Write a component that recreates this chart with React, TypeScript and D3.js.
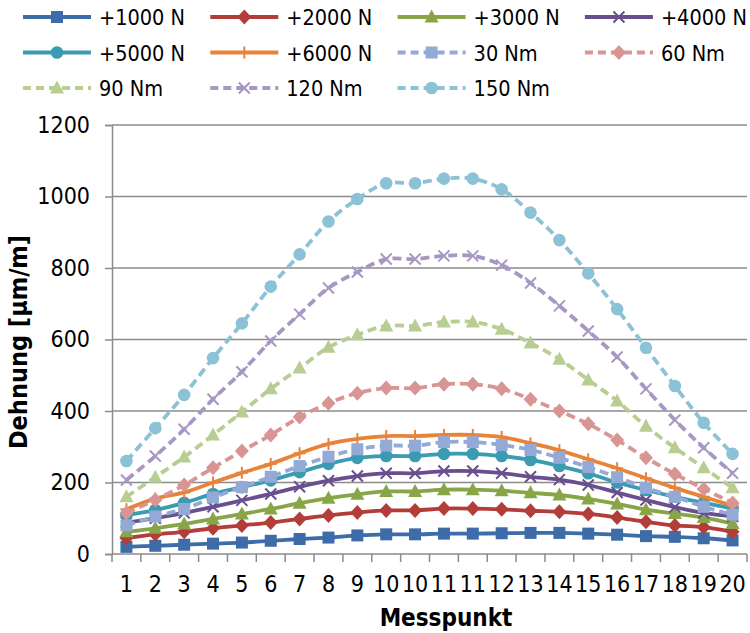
import * as d3 from "d3";
import { useEffect, useRef } from "react";

// measuring points (10 and 11 were measured twice)
const categories = ["1", "2", "3", "4", "5", "6", "7", "8", "9", "10", "10", "11", "11", "12", "13", "14", "15", "16", "17", "18", "19", "20"];

const n1000 = [20, 23, 26, 29, 32, 37, 42, 46, 52, 55, 55, 57, 57, 58, 59, 59, 57, 54, 50, 48, 44, 38];
const n2000 = [45, 55, 62, 72, 80, 88, 98, 108, 116, 122, 122, 127, 127, 125, 121, 118, 112, 102, 90, 80, 75, 62];
const n3000 = [62, 72, 84, 98, 112, 126, 142, 156, 167, 175, 175, 180, 180, 177, 171, 165, 154, 140, 124, 113, 102, 85];
const n4000 = [88, 100, 115, 132, 150, 168, 188, 205, 218, 226, 226, 232, 232, 226, 216, 208, 193, 172, 151, 131, 115, 105];
const n5000 = [109, 123, 143, 168, 187, 206, 229, 252, 269, 274, 274, 280, 280, 274, 263, 246, 226, 200, 179, 160, 143, 128];
const n6000 = [125, 155, 172, 200, 227, 252, 282, 308, 322, 330, 330, 333, 333, 327, 310, 290, 265, 240, 212, 185, 160, 135];
const nm30 = [80, 105, 126, 158, 187, 216, 246, 272, 293, 303, 303, 313, 313, 305, 291, 269, 243, 215, 185, 160, 132, 110];
const nm60 = [115, 151, 193, 241, 288, 333, 383, 422, 450, 464, 464, 475, 475, 462, 433, 400, 364, 319, 269, 224, 182, 143];
const nm90 = [160, 215, 271, 333, 397, 462, 520, 578, 613, 638, 638, 649, 649, 629, 590, 545, 487, 428, 357, 297, 241, 185];
const nm120 = [207, 274, 349, 433, 510, 596, 671, 744, 789, 825, 825, 834, 834, 808, 758, 694, 624, 551, 462, 375, 297, 226];
const nm150 = [260, 352, 445, 548, 645, 748, 838, 930, 993, 1037, 1037, 1050, 1050, 1020, 955, 878, 785, 685, 577, 470, 367, 280];

const yTicks = [0, 200, 400, 600, 800, 1000, 1200];

const series = [
  { name: "+1000 N", values: n1000, color: "#3d6ca8", dash: false, marker: "square" },
  { name: "+2000 N", values: n2000, color: "#b23d39", dash: false, marker: "diamond" },
  { name: "+3000 N", values: n3000, color: "#88a648", dash: false, marker: "triangle" },
  { name: "+4000 N", values: n4000, color: "#6a4f8e", dash: false, marker: "x" },
  { name: "+5000 N", values: n5000, color: "#3a9bb2", dash: false, marker: "circle" },
  { name: "+6000 N", values: n6000, color: "#e8843a", dash: false, marker: "plus" },
  { name: "30 Nm", values: nm30, color: "#93a9d6", dash: true, marker: "square" },
  { name: "60 Nm", values: nm60, color: "#d99593", dash: true, marker: "diamond" },
  { name: "90 Nm", values: nm90, color: "#b8cd92", dash: true, marker: "triangle" },
  { name: "120 Nm", values: nm120, color: "#a797c3", dash: true, marker: "x" },
  { name: "150 Nm", values: nm150, color: "#8cc2d5", dash: true, marker: "circle" },
];

const FONT = "'DejaVu Sans Condensed', 'DejaVu Sans', sans-serif";

function drawMarker(g: any, type: string, cx: number, cy: number, color: string) {
  if (type === "square") {
    g.append("rect").attr("x", cx - 6).attr("y", cy - 6).attr("width", 12).attr("height", 12).attr("fill", color);
  } else if (type === "diamond") {
    g.append("path").attr("d", `M${cx},${cy - 7.5}L${cx + 7},${cy}L${cx},${cy + 7.5}L${cx - 7},${cy}Z`).attr("fill", color);
  } else if (type === "triangle") {
    g.append("path").attr("d", `M${cx},${cy - 7.5}L${cx + 7},${cy + 5.5}L${cx - 7},${cy + 5.5}Z`).attr("fill", color);
  } else if (type === "circle") {
    g.append("circle").attr("cx", cx).attr("cy", cy).attr("r", 6.3).attr("fill", color);
  } else if (type === "x") {
    g.append("path")
      .attr("d", `M${cx - 5.5},${cy - 5.5}L${cx + 5.5},${cy + 5.5}M${cx - 5.5},${cy + 5.5}L${cx + 5.5},${cy - 5.5}`)
      .attr("stroke", color).attr("stroke-width", 2).attr("fill", "none");
  } else if (type === "plus") {
    g.append("path")
      .attr("d", `M${cx},${cy - 6}L${cx},${cy + 6}M${cx - 6},${cy}L${cx + 6},${cy}`)
      .attr("stroke", color).attr("stroke-width", 2).attr("fill", "none");
  }
}

export default function App() {
  const ref = useRef<SVGSVGElement>(null);

  useEffect(() => {
    const svg = d3.select(ref.current);
    svg.selectAll("*").remove();

    const left = 112, right = 747, top = 125, bottom = 554;
    const grid = "#8b8b8b";

    const idx = categories.map((_, i) => i);
    const x = d3.scaleBand<number>().domain(idx).range([left, right]);
    const y = d3.scaleLinear().domain([0, 1200]).range([bottom, top]);

    // gridlines
    svg.append("g")
      .selectAll("line")
      .data(yTicks.filter((t) => t > 0))
      .enter()
      .append("line")
      .attr("x1", left).attr("x2", right)
      .attr("y1", (d) => y(d)).attr("y2", (d) => y(d))
      .attr("stroke", grid).attr("stroke-width", 1.5);

    // y axis
    const ya = svg.append("g")
      .attr("transform", `translate(${left},0)`)
      .call(d3.axisLeft(y).tickValues(yTicks).tickFormat(d3.format("d")).tickSize(7).tickPadding(15));
    ya.select(".domain").attr("stroke", grid).attr("stroke-width", 1.5);
    ya.selectAll(".tick line").attr("stroke", grid).attr("stroke-width", 1.5);
    ya.selectAll("text").attr("font-family", FONT).attr("font-size", 23).attr("fill", "#000");

    // x axis
    const xa = svg.append("g");
    xa.append("line").attr("x1", left).attr("x2", right).attr("y1", bottom).attr("y2", bottom)
      .attr("stroke", grid).attr("stroke-width", 1.5);
    xa.selectAll("line.tk")
      .data(d3.range(categories.length + 1))
      .enter()
      .append("line")
      .attr("class", "tk")
      .attr("x1", (d) => left + d * x.step()).attr("x2", (d) => left + d * x.step())
      .attr("y1", bottom).attr("y2", bottom + 8)
      .attr("stroke", grid).attr("stroke-width", 1.5);
    xa.selectAll("text")
      .data(idx)
      .enter()
      .append("text")
      .attr("x", (d) => x(d)! + x.bandwidth() / 2)
      .attr("y", 592)
      .attr("text-anchor", "middle")
      .attr("font-family", FONT).attr("font-size", 23)
      .text((d) => categories[d]);

    // axis titles
    svg.append("text")
      .attr("x", 446).attr("y", 626)
      .attr("text-anchor", "middle")
      .attr("font-family", FONT).attr("font-size", 24).attr("font-weight", "bold")
      .text("Messpunkt");
    svg.append("text")
      .attr("transform", "translate(27,342) rotate(-90)")
      .attr("text-anchor", "middle")
      .attr("font-family", FONT).attr("font-size", 25).attr("font-weight", "bold")
      .text("Dehnung [µm/m]");

    // lines and markers
    const line = d3.line<number>()
      .x((_, i) => x(i)! + x.bandwidth() / 2)
      .y((d) => y(d))
      .curve(d3.curveCatmullRom.alpha(0.5));

    series.forEach((s) => {
      const g = svg.append("g");
      g.append("path")
        .attr("d", line(s.values))
        .attr("fill", "none")
        .attr("stroke", s.color)
        .attr("stroke-width", 3.8)
        .attr("stroke-dasharray", s.dash ? "9,5" : null);
      s.values.forEach((v, i) => drawMarker(g, s.marker, x(i)! + x.bandwidth() / 2, y(v), s.color));
    });

    // legend
    const leg = svg.append("g");
    series.forEach((s, i) => {
      const col = i % 4, row = Math.floor(i / 4);
      const lx = 23 + col * 187.3;
      const ly = 17 + row * 35.5;
      const g = leg.append("g");
      g.append("line")
        .attr("x1", lx).attr("x2", lx + 68).attr("y1", ly).attr("y2", ly)
        .attr("stroke", s.color).attr("stroke-width", 3.8)
        .attr("stroke-dasharray", s.dash ? "8,5" : null);
      drawMarker(g, s.marker, lx + 34, ly, s.color);
      g.append("text")
        .attr("x", lx + 76).attr("y", ly + 8)
        .attr("font-family", FONT).attr("font-size", 21.5)
        .text(s.name);
    });
  }, []);

  return <svg ref={ref} width={750} height={633} style={{ position: "absolute", left: 0, top: 0 }}></svg>;
}
